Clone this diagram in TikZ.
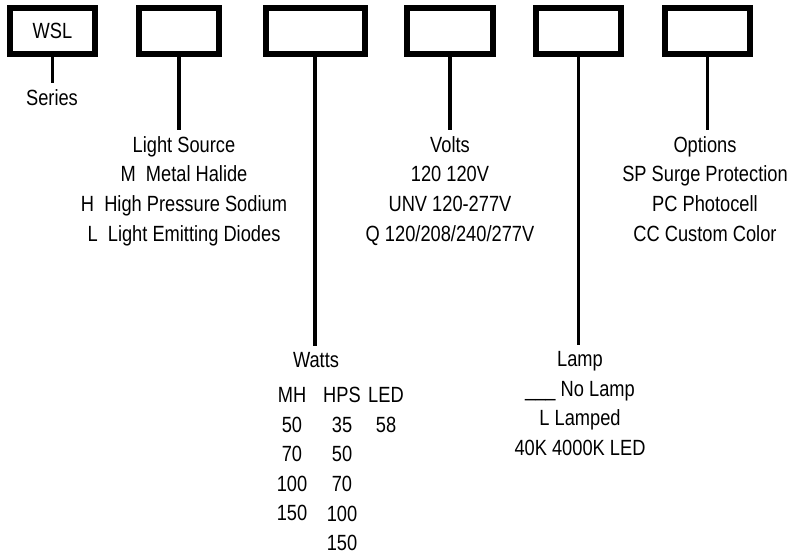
\documentclass[tikz,border=0pt]{standalone}
\usepackage{fontspec}
\setmainfont{Liberation Sans}[FakeStretch=0.83]
\usepackage{tikz}
\usetikzlibrary{positioning}

\begin{document}
\begin{tikzpicture}[
  x=0.75pt, y=-0.75pt,
  codebox/.style={draw, line width=4.5pt, minimum height=34.5pt, inner sep=0pt, font=\fontsize{16.5}{22.2}\selectfont},
  lbl/.style={align=center, inner xsep=0pt, inner ysep=4.5pt, anchor=north, font=\fontsize{16.5}{22.2}\selectfont},
  stem/.style={line width=2.4pt},
]
  \useasboundingbox (0,0) rectangle (793,558);

  % Code boxes
  \node[codebox, minimum width=63.75pt] (series) at (52.5,31) {WSL};
  \node[codebox, minimum width=60pt] (source) at (179,31) {};
  \node[codebox, minimum width=74.25pt] (watts) at (315,31) {};
  \node[codebox, minimum width=64.5pt] (volts) at (450,31) {};
  \node[codebox, minimum width=63.75pt] (lamp) at (578.5,31) {};
  \node[codebox, minimum width=63.75pt] (options) at (707.5,31) {};

  % Descriptions
  \node[lbl] (serieslbl) at (52,83) {Series};
  \node[lbl] (sourcelbl) at (184,130) {Light Source\\M~ Metal Halide\\H~ High Pressure Sodium\\L~ Light Emitting Diodes};
  \node[lbl] (voltslbl) at (450,130) {Volts\\120 120V\\UNV 120-277V\\Q 120/208/240/277V};
  \node[lbl] (optionslbl) at (705,130) {Options\\SP Surge Protection\\PC Photocell\\CC Custom Color};
  \node[lbl] (wattslbl) at (316,346) {Watts};
  \node[lbl] (lamplbl) at (580,345) {Lamp\\\_\_\_ No Lamp\\L Lamped\\40K 4000K LED};

  % Watts table
  \node[lbl] (wmh) at (292,381) {MH\\50\\70\\100\\150};
  \node[lbl] (whps) at (342,381) {HPS\\35\\50\\70\\100\\150};
  \node[lbl] (wled) at (386,381) {LED\\58};

  % Stems
  \draw[stem] (series.south) -- (series.south |- serieslbl.north);
  \draw[stem] (source.south) -- (source.south |- sourcelbl.north);
  \draw[stem] (watts.south) -- (watts.south |- wattslbl.north);
  \draw[stem] (volts.south) -- (volts.south |- voltslbl.north);
  \draw[stem] (lamp.south) -- (lamp.south |- lamplbl.north);
  \draw[stem] (options.south) -- (options.south |- optionslbl.north);
\end{tikzpicture}
\end{document}
